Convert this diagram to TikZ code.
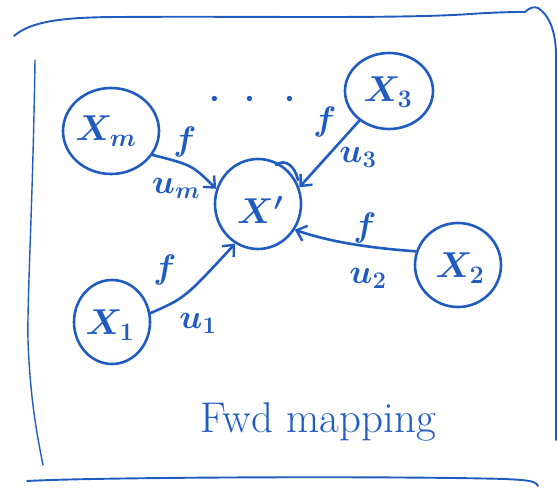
\RequirePackage{fix-cm}
\documentclass[tikz,border=0pt]{standalone}
\usepackage{fontspec}
\usetikzlibrary{arrows.meta,shapes.geometric,calc}
\definecolor{inkblue}{RGB}{32,92,192}
\begin{document}
\begin{tikzpicture}[x=1pt,y=-1pt,
  ink/.style={draw=inkblue, line width=2.6pt, line cap=round, line join=round},
  frame/.style={draw=inkblue, line width=1.9pt, line cap=round, line join=round},
  setnode/.style={ink, ellipse, inner sep=0pt},
  settext/.style={text=inkblue, font=\fontsize{36}{40}\selectfont\boldmath},
  arr/.style={ink, -{Straight Barb[length=9pt,width=16pt,line width=2.4pt]}},
  lab/.style={text=inkblue, font=\fontsize{34}{38}\selectfont\boldmath, inner sep=0pt}
]
\useasboundingbox (0,0) rectangle (558,489);
% frame
\draw[frame] (14,36) .. controls (30,22) and (60,17) .. (120,17)
  .. controls (250,16) and (400,19) .. (470,14)
  .. controls (500,12) and (518,12) .. (525,12)
  .. controls (529,8) and (534,6) .. (538,8)
  .. controls (548,14) and (556,30) .. (556,55) -- (556,440);
\draw[frame, line width=1.4pt] (35,60) .. controls (33,200) and (27,300) .. (28,340)
  .. controls (30,400) and (38,440) .. (43,465);
\draw[frame] (27,481) .. controls (100,477) and (400,476) .. (505,479)
  .. controls (522,480) and (536,480) .. (538,486);
% nodes
\node[setnode, minimum width=96pt, minimum height=86pt] (Xm) at (111,131) {};
\node[settext] (tXm) at (106,131) {$X_m$};
\node[setnode, minimum width=86pt, minimum height=90pt] (Xp) at (258,204) {};
\node[settext] (tXp) at (260,210) {$X'$};
\draw[ink] ($(Xp)+(18,-39)$) .. controls ($(Xp)+(27,-46)$) and ($(Xp)+(37,-38)$) .. ($(Xp)+(40,-24)$);
\node[setnode, minimum width=88pt, minimum height=76pt] (X3) at (389,91) {};
\node[settext] (tX3) at (388,92) {$X_3$};
\node[setnode, minimum width=86pt, minimum height=84pt] (X2) at (458,265) {};
\node[settext] (tX2) at (460,268) {$X_2$};
\node[setnode, minimum width=76pt, minimum height=84pt] (X1) at (112,322) {};
\node[settext] (tX1) at (110,325) {$X_1$};
% dots
\node[lab] (dots) at (252,99) {$\cdot\hspace{16pt}\cdot\hspace{20pt}\cdot$};
% edges
\draw[arr] (Xm.-30) .. controls (192,165) .. (Xp.160);
\draw[arr] (X3.225) -- (Xp.22);
\draw[arr] (X2.162) .. controls (370,248) and (330,242) .. (Xp.-35);
\draw[arr] (X1.13) .. controls (185,298) .. (Xp.240);
% labels
\node[lab] (f1) at (185,142) {$f$};
\node[lab] (um) at (176,188) {$u_m$};
\node[lab] (f2) at (325,122) {$f$};
\node[lab] (u3) at (358,157) {$u_3$};
\node[lab] (f3) at (365,228) {$f$};
\node[lab] (u2) at (368,278) {$u_2$};
\node[lab] (f4) at (165,270) {$f$};
\node[lab] (u1) at (198,323) {$u_1$};
\node[text=inkblue, font=\fontsize{43}{48}\selectfont, anchor=base] (cap) at (318,433) {Fwd mapping};
\end{tikzpicture}
\end{document}
